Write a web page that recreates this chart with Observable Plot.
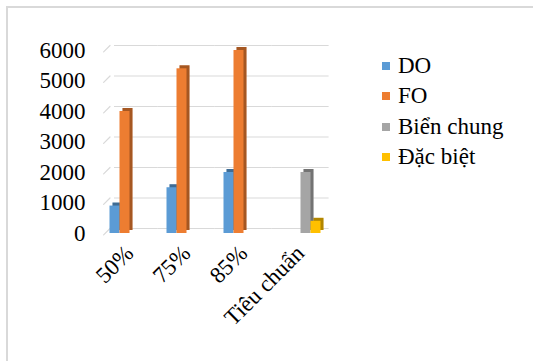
<!DOCTYPE html>
<html>
<head>
<meta charset="utf-8">
<style>
  * { font-family: 'Liberation Serif', 'Times New Roman', serif !important; }
  html, body { margin: 0; padding: 0; background: #fff; overflow: hidden; }
  #wrap { position: relative; width: 533px; height: 361px; overflow: hidden; }
  #frame { position: absolute; left: 6px; top: 6px; width: 600px; height: 400px; border-top: 2px solid #d9d9d9; border-left: 2px solid #d9d9d9; }
  #chart { position: absolute; left: 0; top: 0; }
  #chart svg, #chart svg text, #chart svg g { font-family: 'Liberation Serif', 'Times New Roman', serif !important; }
  #legend { position: absolute; left: 382px; top: 51px; }
  .item { display: flex; align-items: center; height: 30.3px; font-size: 23px; color: #000; white-space: nowrap; }
  .sw { width: 8px; height: 8px; margin-right: 8px; flex: none; }
</style>
<script src="https://cdn.jsdelivr.net/npm/d3@7"></script>
<script src="https://cdn.jsdelivr.net/npm/@observablehq/plot@0.6"></script>
</head>
<body>
<div id="wrap">
  <div id="frame"></div>
  <div id="chart"></div>
  <div id="legend"></div>
</div>
<script>
const categories = ["50%", "75%", "85%", "Tiêu chuẩn"];
const series = ["DO", "FO", "Biển chung", "Đặc biệt"];
const colors = ["#5B9BD5", "#ED7D31", "#A5A5A5", "#FFC000"];
const valuesDO = [900, 1500, 2000, null];
const valuesFO = [4000, 5400, 6000, null];
const valuesBienChung = [null, null, null, 2000];
const valuesDacBiet = [null, null, null, 400];
const yTicks = [0, 1000, 2000, 3000, 4000, 5000, 6000];

const seriesValues = [valuesDO, valuesFO, valuesBienChung, valuesDacBiet];
const data = [];
categories.forEach((c, i) => {
  series.forEach((s, j) => {
    const v = seriesValues[j][i];
    if (v != null) data.push({category: c, series: s, value: v});
  });
});

const gridFirst = yTicks.map(v => ({category: categories[0], value: v}));
const gridRest = categories.slice(1).flatMap(c => yTicks.map(v => ({category: c, value: v})));

const font = "'Liberation Serif', 'Times New Roman', serif";
const gridColor = "#d9d9d9";

const chart = Plot.plot({
  width: 533,
  height: 361,
  marginLeft: 99.5,
  marginRight: 204.5,
  marginTop: 50,
  marginBottom: 128,
  style: {fontFamily: font, fontSize: "23px", color: "#000", background: "transparent"},
  fx: {domain: categories, paddingInner: 0.3, paddingOuter: 0.15, label: null},
  x: {domain: series, padding: 0, axis: null},
  y: {domain: [0, 6000], label: null},
  color: {domain: series, range: colors},
  marks: [
    Plot.ruleY(gridFirst, {fx: "category", y: "value", stroke: gridColor, strokeWidth: 1.2, dy: -5, insetLeft: 5, insetRight: -8.6}),
    Plot.ruleY(gridRest, {fx: "category", y: "value", stroke: gridColor, strokeWidth: 1.2, dy: -5, insetLeft: -8.6, insetRight: -8.6}),
    Plot.vector(gridFirst, {fx: "category", x: () => series[0], y: "value", length: 9, rotate: 45, anchor: "end", dx: -5, dy: -5, stroke: gridColor, strokeWidth: 1.2, shape: {draw(ctx, l) { ctx.moveTo(0, 0); ctx.lineTo(0, -l); }}}),
    Plot.barY(data, {fx: "category", x: "series", y: "value", fill: "series", dx: 3, dy: -3}),
    Plot.barY(data, {fx: "category", x: "series", y: "value", fill: "#000", fillOpacity: 0.3, dx: 3, dy: -3}),
    Plot.barY(data, {fx: "category", x: "series", y: "value", fill: "series"}),
    Plot.axisY(yTicks, {tickSize: 0, tickPadding: 24, tickFormat: d3.format("d"), fontSize: 23, fill: "#000"}),
    Plot.axisFx({anchor: "bottom", tickRotate: -45, tickSize: 0, tickPadding: 16, fontSize: 23, fill: "#000", label: null})
  ]
});
document.getElementById("chart").appendChild(chart);

const legend = document.getElementById("legend");
series.forEach((s, i) => {
  const row = document.createElement("div");
  row.className = "item";
  const sw = document.createElement("span");
  sw.className = "sw";
  sw.style.background = colors[i];
  const t = document.createElement("span");
  t.textContent = s;
  row.appendChild(sw);
  row.appendChild(t);
  legend.appendChild(row);
});
</script>
</body>
</html>
